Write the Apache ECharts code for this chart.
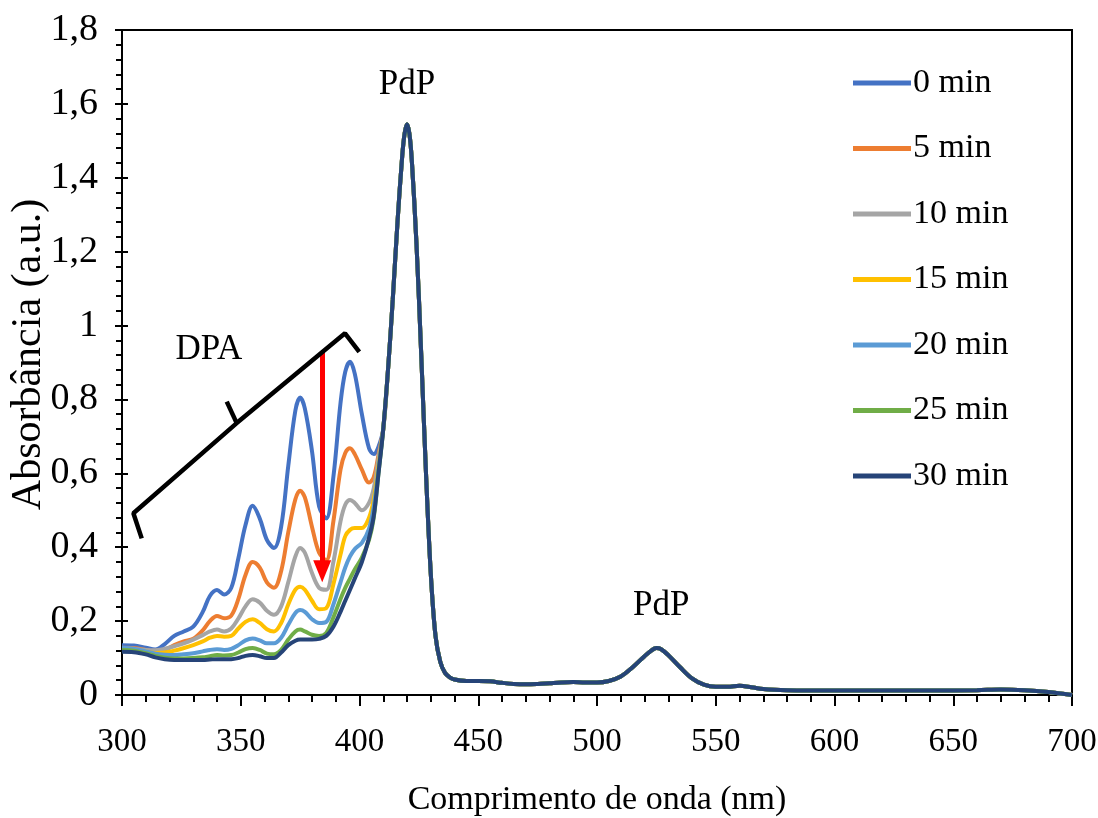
<!DOCTYPE html>
<html>
<head>
<meta charset="utf-8">
<script src="https://cdn.jsdelivr.net/npm/echarts@6/dist/echarts.min.js"></script>
<style>
  html, body { margin: 0; padding: 0; background: #ffffff; }
  #chart { width: 1098px; height: 818px; }
</style>
</head>
<body>
<div id="chart"></div>
<script>
// Wavelength grid (nm): dense over the DPA bands, then the PdP region
const wavelengths = [
  300, 305, 310, 314, 318, 322, 326, 330, 334, 337, 340, 343, 346, 349, 352, 355, 358, 361,
  364, 367, 370, 373, 375, 377, 380, 383, 386, 389, 392, 394, 396, 398, 401, 404, 406, 408,
  410, 412, 414, 416, 418, 419, 420, 421, 422, 424, 426, 428, 430, 432, 434, 436, 438, 440,
  445, 450, 455, 460, 465, 470, 475, 480, 485, 490, 495, 500, 505, 510, 515, 520, 523, 525,
  527, 530, 535, 540, 545, 550, 555, 560, 565, 570, 580, 600, 620, 640, 660, 670, 680, 690, 700
];

// Absorbance over 300–408 nm (DPA bands) for each irradiation time
const abs0 = [0.135, 0.134, 0.128, 0.123, 0.138, 0.160, 0.172, 0.185, 0.225, 0.268, 0.284, 0.272,
  0.290, 0.370, 0.460, 0.512, 0.478, 0.420, 0.398, 0.455, 0.620, 0.770, 0.805, 0.775, 0.660, 0.510,
  0.478, 0.590, 0.790, 0.875, 0.902, 0.870, 0.760, 0.668, 0.652, 0.672];
const abs5 = [0.128, 0.127, 0.122, 0.117, 0.122, 0.135, 0.145, 0.152, 0.175, 0.200, 0.214, 0.208,
  0.215, 0.260, 0.325, 0.360, 0.345, 0.305, 0.290, 0.335, 0.440, 0.530, 0.553, 0.535, 0.455, 0.385,
  0.365, 0.470, 0.610, 0.655, 0.668, 0.652, 0.610, 0.575, 0.590, 0.650];
const abs10 = [0.126, 0.125, 0.122, 0.121, 0.125, 0.132, 0.140, 0.150, 0.162, 0.172, 0.177, 0.172,
  0.180, 0.207, 0.240, 0.259, 0.250, 0.228, 0.217, 0.240, 0.305, 0.375, 0.398, 0.385, 0.330, 0.290,
  0.285, 0.360, 0.470, 0.515, 0.528, 0.520, 0.500, 0.520, 0.560, 0.640];
const abs15 = [0.126, 0.124, 0.118, 0.114, 0.115, 0.120, 0.127, 0.135, 0.145, 0.155, 0.160, 0.158,
  0.160, 0.180, 0.198, 0.205, 0.195, 0.178, 0.172, 0.195, 0.245, 0.285, 0.293, 0.285, 0.255, 0.232,
  0.235, 0.300, 0.380, 0.430, 0.447, 0.452, 0.452, 0.480, 0.530, 0.620];
const abs20 = [0.128, 0.125, 0.118, 0.112, 0.109, 0.108, 0.110, 0.113, 0.118, 0.122, 0.124, 0.122,
  0.125, 0.135, 0.148, 0.153, 0.148, 0.140, 0.140, 0.155, 0.190, 0.222, 0.230, 0.225, 0.205, 0.195,
  0.198, 0.245, 0.305, 0.345, 0.375, 0.395, 0.412, 0.450, 0.510, 0.610];
const abs25 = [0.122, 0.120, 0.113, 0.106, 0.101, 0.099, 0.099, 0.100, 0.102, 0.105, 0.108, 0.107,
  0.108, 0.115, 0.124, 0.127, 0.122, 0.112, 0.110, 0.122, 0.150, 0.172, 0.177, 0.172, 0.163, 0.160,
  0.168, 0.210, 0.260, 0.290, 0.315, 0.340, 0.372, 0.420, 0.480, 0.600];
const abs30 = [0.117, 0.116, 0.110, 0.102, 0.097, 0.095, 0.095, 0.095, 0.095, 0.096, 0.097, 0.097,
  0.097, 0.100, 0.106, 0.108, 0.105, 0.100, 0.100, 0.115, 0.135, 0.147, 0.150, 0.150, 0.150, 0.152,
  0.160, 0.185, 0.225, 0.255, 0.285, 0.315, 0.360, 0.425, 0.485, 0.600];

// Absorbance from 410 nm onward (PdP Soret and Q bands), common to all times
const absPdP = [0.72, 0.88, 1.07, 1.28, 1.46, 1.52, 1.545, 1.52, 1.45, 1.22, 0.92, 0.60, 0.33, 0.16,
  0.09, 0.06, 0.048, 0.042, 0.038, 0.038, 0.037, 0.033, 0.030, 0.029, 0.030, 0.032, 0.034, 0.035,
  0.034, 0.034, 0.038, 0.050, 0.075, 0.105, 0.121, 0.127, 0.124, 0.108, 0.075, 0.045, 0.028, 0.022,
  0.022, 0.025, 0.021, 0.016, 0.013, 0.012, 0.012, 0.012, 0.013, 0.015, 0.013, 0.008, 0.0];

const seriesNames = ['0 min', '5 min', '10 min', '15 min', '20 min', '25 min', '30 min'];
const seriesColors = ['#4472C4', '#ED7D31', '#A5A5A5', '#FFC000', '#5B9BD5', '#70AD47', '#264478'];
const dpaValues = [abs0, abs5, abs10, abs15, abs20, abs25, abs30];

const xTickLabels = ['300', '350', '400', '450', '500', '550', '600', '650', '700'];
const yTickLabels = ['0', '0,2', '0,4', '0,6', '0,8', '1', '1,2', '1,4', '1,6', '1,8'];

// Band labels [nm, absorbance, text]
const bandLabels = [[336.6, 0.935, 'DPA'], [420, 1.651, 'PdP'], [527, 0.241, 'PdP']];
// Bracket spanning the DPA bands, and its centre notch
const bracketPath = [[308.3, 0.424], [304.8, 0.492], [348.3, 0.736], [393.9, 0.979], [399.9, 0.929]];
const bracketNotch = [[348.3, 0.736], [344.1, 0.794]];
// Decrease arrow: [nm, from, to]
const decreaseArrow = [384.3, 0.929, 0.335];

const FONT = '"Liberation Serif", "Times New Roman", serif';

const spectra = seriesNames.map((name, i) => ({
  name: name,
  type: 'line',
  data: wavelengths.map((w, k) => [w, k < dpaValues[i].length ? dpaValues[i][k] : absPdP[k - dpaValues[i].length]]),
  showSymbol: false,
  smooth: 0.35,
  lineStyle: { width: 4, color: seriesColors[i] },
  itemStyle: { color: seriesColors[i] },
  z: 2 + i
}));

const chart = echarts.init(document.getElementById('chart'), null, { renderer: 'canvas' });

chart.setOption({
  animation: false,
  backgroundColor: '#ffffff',
  textStyle: { fontFamily: FONT, color: '#000' },
  grid: {
    left: 122, right: 26, top: 30, bottom: 123,
    outerBoundsMode: 'none',
    containLabel: false,
    show: true, borderColor: '#000', borderWidth: 2
  },
  legend: {
    data: seriesNames,
    orient: 'vertical',
    left: 848, top: 61,
    icon: 'rect',
    itemWidth: 58, itemHeight: 5,
    itemGap: 31.5,
    textStyle: { fontFamily: FONT, fontSize: 34, color: '#000', lineHeight: 34, padding: [0, 0, 0, -3] },
    selectedMode: false
  },
  xAxis: {
    type: 'value',
    min: 300, max: 700, interval: 50,
    name: 'Comprimento de onda (nm)',
    nameLocation: 'middle',
    nameGap: 88,
    nameMoveOverlap: false,
    nameTextStyle: { fontFamily: FONT, fontSize: 34, color: '#000' },
    axisLine: { show: true, onZero: false, lineStyle: { color: '#000', width: 2 } },
    axisTick: { show: true, inside: false, length: 11, lineStyle: { color: '#000', width: 2 } },
    minorTick: { show: true, splitNumber: 5, length: 7, lineStyle: { color: '#000', width: 2 } },
    axisLabel: {
      margin: 31, fontFamily: FONT, fontSize: 33, color: '#000',
      formatter: v => xTickLabels[Math.round((v - 300) / 50)]
    },
    splitLine: { show: false }
  },
  yAxis: [{
    type: 'value',
    min: 0, max: 1.8, interval: 0.2,
    name: 'Absorbância (a.u.)',
    nameLocation: 'middle',
    nameGap: 72,
    nameMoveOverlap: false,
    nameTextStyle: { fontFamily: FONT, fontSize: 42, color: '#000', padding: [0, 0, 0, 16] },
    axisLine: { show: true, onZero: false, lineStyle: { color: '#000', width: 2 } },
    axisTick: { show: true, inside: false, length: 7, lineStyle: { color: '#000', width: 2 } },
    minorTick: { show: true, splitNumber: 5, length: 6, lineStyle: { color: '#000', width: 2 } },
    axisLabel: {
      margin: 24, fontFamily: FONT, fontSize: 38, color: '#000',
      formatter: v => yTickLabels[Math.round(v / 0.2)]
    },
    splitLine: { show: false }
  }, {
    // inner half of the crossing major ticks
    type: 'value',
    min: 0, max: 1.8, interval: 0.2,
    position: 'left',
    axisLine: { show: false },
    axisTick: { show: true, inside: true, length: 6, lineStyle: { color: '#000', width: 2 } },
    axisLabel: { show: false },
    splitLine: { show: false }
  }],
  series: spectra.concat([
    {
      name: 'bracket',
      type: 'line',
      data: bracketPath,
      showSymbol: false,
      lineStyle: { width: 4.5, color: '#000' },
      z: 20,
      silent: true,
      markLine: {
        silent: true,
        symbol: ['none', 'triangle'],
        symbolSize: [18, 22],
        label: { show: false },
        lineStyle: { color: '#ff0000', width: 5, type: 'solid' },
        data: [[
          { coord: [decreaseArrow[0], decreaseArrow[1]] },
          { coord: [decreaseArrow[0], decreaseArrow[2]] }
        ]]
      },
      markPoint: {
        silent: true,
        symbol: 'circle',
        symbolSize: 0,
        itemStyle: { color: '#000', opacity: 1 },
        label: {
          show: true,
          position: 'inside',
          fontFamily: FONT,
          fontSize: 35,
          color: '#000',
          opacity: 1,
          textBorderWidth: 0,
          formatter: p => p.name
        },
        data: bandLabels.map(d => ({ coord: [d[0], d[1]], name: d[2] }))
      }
    },
    {
      name: 'notch',
      type: 'line',
      data: bracketNotch,
      showSymbol: false,
      lineStyle: { width: 4.5, color: '#000' },
      z: 20,
      silent: true
    }
  ])
});
</script>
</body>
</html>
